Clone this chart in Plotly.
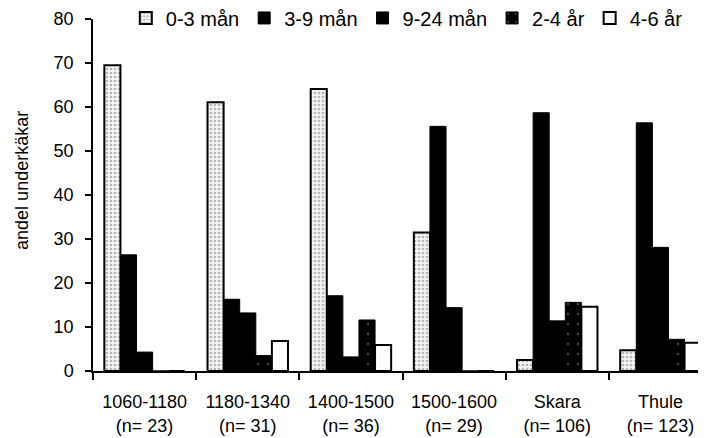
import plotly.graph_objects as go

categories = ["1060-1180<br>(n= 23)", "1180-1340<br>(n= 31)", "1400-1500<br>(n= 36)",
              "1500-1600<br>(n= 29)", "Skara<br>(n= 106)", "Thule<br>(n= 123)"]
series_names = ["0-3 mån", "3-9 mån", "9-24 mån", "2-4 år", "4-6 år"]
v_0_3 = [69.5, 61.1, 64.1, 31.5, 2.5, 4.7]
v_3_9 = [26.4, 16.3, 17.1, 55.6, 58.7, 56.4]
v_9_24 = [4.3, 13.2, 3.2, 14.4, 11.4, 28.1]
v_2_4 = [0, 3.5, 11.6, 0, 15.6, 7.2]
v_4_6 = [0, 6.8, 5.9, 0, 14.6, 6.4]
y_title = "andel underkäkar"

FONT = "Liberation Sans, Arial, sans-serif"

fig = go.Figure()
fig.add_bar(name=series_names[0], x=categories, y=v_0_3,
            marker=dict(color="#eeeeee", line=dict(color="black", width=2),
                        pattern=dict(shape=".", fgcolor="#777777", bgcolor="#f4f4f4",
                                     size=4, solidity=0.35)))
fig.add_bar(name=series_names[1], x=categories, y=v_3_9,
            marker=dict(color="black", line=dict(color="black", width=1)))
fig.add_bar(name=series_names[2], x=categories, y=v_9_24,
            marker=dict(color="black", line=dict(color="black", width=1)))
fig.add_bar(name=series_names[3], x=categories, y=v_2_4,
            marker=dict(color="black", line=dict(color="black", width=1),
                        pattern=dict(shape=".", fgcolor="#999999", bgcolor="black",
                                     size=10, solidity=0.04)))
fig.add_bar(name=series_names[4], x=categories, y=v_4_6,
            marker=dict(color="white", line=dict(color="black", width=2)))

fig.update_layout(
    width=706, height=438,
    margin=dict(l=85, r=2, t=11, b=75, autoexpand=False),
    paper_bgcolor="white", plot_bgcolor="white",
    barmode="group", bargap=0.22, bargroupgap=0,
    font=dict(family=FONT, size=18, color="black"),
    showlegend=True,
    legend=dict(orientation="h", x=0.053, xanchor="left", y=1.003, yanchor="middle",
                font=dict(size=20), bgcolor="rgba(0,0,0,0)",
                itemwidth=30, traceorder="normal", tracegroupgap=0),
    annotations=[dict(text=y_title, textangle=-90, xref="paper", yref="paper",
                      x=-0.1147, y=0.54, xanchor="center", yanchor="middle",
                      showarrow=False, font=dict(size=18))],
)
fig.update_yaxes(range=[0, 80], dtick=10, showgrid=False, zeroline=False,
                 showline=True, linecolor="black", linewidth=1.5,
                 ticks="outside", ticklen=6, tickcolor="black", tickwidth=1.5,
                 tickfont=dict(size=18), ticklabelstandoff=8,
                 ticklabeloverflow="allow")
fig.update_xaxes(range=[-0.5, 5.5], showgrid=False,
                 showline=True, linecolor="black", linewidth=1.5,
                 ticks="outside", tickson="boundaries", ticklen=7, tickcolor="black",
                 tickwidth=1.5, tickfont=dict(size=18), ticklabelstandoff=14,
                 ticklabeloverflow="allow")

fig.write_html("out.html")
